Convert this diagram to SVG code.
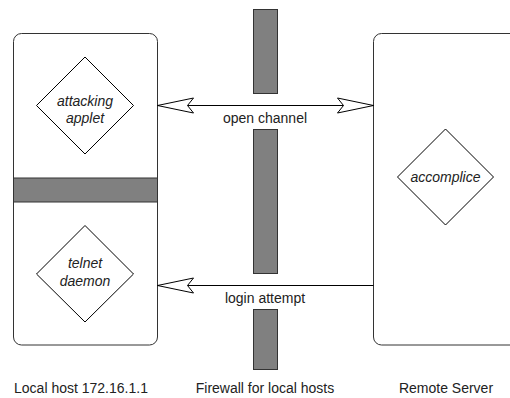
<svg xmlns="http://www.w3.org/2000/svg" width="510" height="398" viewBox="0 0 510 398">
  <style>
    .box { fill: #ffffff; stroke: #333333; stroke-width: 1; }
    .wall { fill: #808080; stroke: #333333; stroke-width: 1; }
    .dia { fill: #ffffff; stroke: #000000; stroke-width: 1; }
    .lbl { font-family: "Liberation Sans", Arial, sans-serif; font-size: 14px; fill: #222222; text-anchor: middle; }
    .it { font-style: italic; }
    .edge { fill: none; stroke: #000000; stroke-width: 1; }
  </style>
  <defs>
    <marker id="open" markerUnits="userSpaceOnUse" markerWidth="40" markerHeight="20" refX="0" refY="0" viewBox="-40 -10 40 20" orient="auto-start-reverse" overflow="visible">
      <path d="M0,0 L-36,-7.5 L-30,0 L-36,7.5 Z" fill="#ffffff" stroke="#000000" stroke-width="1"/>
    </marker>
  </defs>

  <g id="local-host">
    <rect class="box" x="13.5" y="33.5" width="144" height="311.5" rx="8" ry="8"/>
    <rect class="wall" x="13.5" y="178" width="144" height="24"/>
    <text class="lbl" x="81" y="393">Local host 172.16.1.1</text>
  </g>

  <g id="attacking-applet">
    <polygon class="dia" points="85,57 133.5,105.5 85,154 36.5,105.5"/>
    <text class="lbl it" x="85" y="106">attacking</text>
    <text class="lbl it" x="85" y="123">applet</text>
  </g>

  <g id="telnet-daemon">
    <polygon class="dia" points="85,225.5 133.5,274 85,322 36.5,274"/>
    <text class="lbl it" x="85" y="268">telnet</text>
    <text class="lbl it" x="85" y="286">daemon</text>
  </g>

  <g id="firewall">
    <rect class="wall" x="253.5" y="9.5" width="24" height="84"/>
    <rect class="wall" x="253.5" y="129.5" width="24" height="144"/>
    <rect class="wall" x="253.5" y="309.5" width="24" height="60"/>
    <text class="lbl" x="265" y="393">Firewall for local hosts</text>
  </g>

  <g id="remote-server">
    <rect class="box" x="373.5" y="33.5" width="150" height="311.5" rx="8" ry="8"/>
    <text class="lbl" x="446" y="393">Remote Server</text>
  </g>

  <g id="accomplice">
    <polygon class="dia" points="445.5,129 493.5,177 445.5,225 397.5,177"/>
    <text class="lbl it" x="445.5" y="182">accomplice</text>
  </g>

  <g id="connectors">
    <line class="edge" x1="157.5" y1="105.5" x2="373.5" y2="105.5" marker-start="url(#open)" marker-end="url(#open)"/>
    <text class="lbl" x="265" y="123">open channel</text>
    <line class="edge" x1="157.5" y1="285.5" x2="373.5" y2="285.5" marker-start="url(#open)"/>
    <text class="lbl" x="265" y="303">login attempt</text>
  </g>
</svg>
